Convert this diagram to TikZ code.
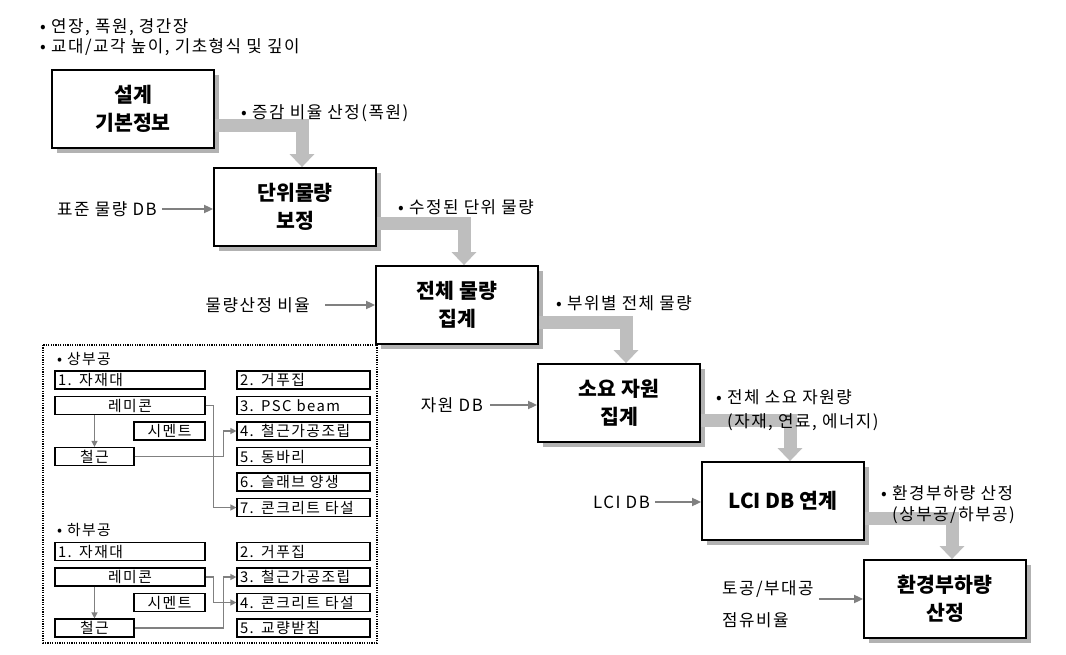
\documentclass[tikz,border=0pt]{standalone}
\usepackage{fontspec}
\setmainfont{Noto Sans CJK KR}
\usetikzlibrary{calc}
\usetikzlibrary{arrows.meta}
\usetikzlibrary{shadows}
\definecolor{bandgray}{RGB}{190,190,190}
\definecolor{linegray}{RGB}{128,128,128}

\begin{document}
\begin{tikzpicture}[x=1pt,y=-1pt]
      \tikzset{mainbox/.style={draw=black,line width=1.8pt,fill=white,minimum width=162pt,minimum height=78pt,align=center,font=\fontsize{20.5}{28}\selectfont\bfseries,drop shadow={shadow xshift=5pt,shadow yshift=-5pt,fill=gray!60,opacity=1}},
        bandarrow/.style={draw=bandgray,line width=13pt,-{Triangle[width=24pt,length=13pt]}},
        inarrow/.style={draw=linegray,line width=1.8pt,-{Triangle[width=8pt,length=9pt]}},
        link/.style={draw=linegray,line width=1.3pt,-{Triangle[width=6pt,length=6pt]}},
        txt/.style={inner sep=0pt,align=left,font=\fontsize{16.8}{21}\selectfont\addfontfeatures{LetterSpace=9}},
        small/.style={inner sep=0pt,font=\fontsize{14.8}{16}\selectfont\addfontfeatures{LetterSpace=10}},
        sbox/.style={small,draw=black,line width=1.2pt,fill=white,minimum height=18pt,inner xsep=3pt},
        wideleft/.style={sbox,text width=144pt,align=left},
        widemid/.style={sbox,text width=144pt,align=center},
        rightbox/.style={sbox,text width=127pt,align=left}}
      \def\rx{303.5}
      \useasboundingbox (0,0) rectangle (1066,655);

\node[txt,anchor=west] (t1) at (40,27) {• 연장, 폭원, 경간장};
\node[txt,anchor=west] (t2) at (40,47) {• 교대/교각 높이, 기초형식 및 깊이};

\node[mainbox] (b1) at (133,109) {설계\\기본정보};
\node[mainbox] (b2) at (295,207) {단위물량\\보정};
\node[mainbox] (b3) at (457,305) {전체 물량\\집계};
\node[mainbox] (b4) at (619,403) {소요 자원\\집계};
\node[mainbox] (b5) at (783,501) {LCI DB 연계};
\node[mainbox] (b6) at (945,599) {환경부하량\\산정};

\foreach \a/\b in {b1/b2,b2/b3,b3/b4,b4/b5,b5/b6}
		\draw[bandarrow] ($(\a.east)+(0,17)$) -| ($(\b.north)+(7,0)$);

\node[txt,anchor=west] (l1) at ($(b1.east)+(26,4)$) {• 증감 비율 산정(폭원)};
\node[txt,anchor=west] (l2) at ($(b2.east)+(21,0)$) {• 수정된 단위 물량};
\node[txt,anchor=west] (l3) at ($(b3.east)+(17,-2)$) {• 부위별 전체 물량};
\node[txt,anchor=west] (l4) at ($(b4.east)+(15,7)$) {• 전체 소요 자원량\\[3pt]\hphantom{• }(자재, 연료, 에너지)};
\node[txt,anchor=west] (l5) at ($(b5.east)+(16,4)$) {• 환경부하량 산정\\\hphantom{• }(상부공/하부공)};

\node[txt,anchor=west] (i1) at (57,209) {표준 물량 DB};
\node[txt,anchor=east] (i2) at (310,305) {물량산정 비율};
\node[txt,anchor=east] (i3) at (483,405) {자원 DB};
\node[txt,anchor=east] (i4) at (650,502) {LCI DB};
\node[txt,anchor=west,font=\fontsize{16.8}{32}\selectfont\addfontfeatures{LetterSpace=9}] (i5) at (722,604) {토공/부대공\\점유비율};

\draw[inarrow,shorten <=5pt] (i1.east) -- (i1.east -| b2.west);
\draw[inarrow,shorten <=15pt] (i2.east) -- (i2.east -| b3.west);
\draw[inarrow,shorten <=7pt] (i3.east) -- (i3.east -| b4.west);
\draw[inarrow,shorten <=5pt] (i4.east) -- (i4.east -| b5.west);
\draw[inarrow,shorten <=5pt] (i5.east |- b6.west) -- (b6.west);

\draw[line width=1.2pt,dash pattern=on 1.2pt off 1.2pt] (43,345) rectangle (377,643);

\node[small,anchor=west] (s1) at (57,359) {• 상부공};
\node[wideleft] (ua) at (130,380) {1. 자재대};
\node[widemid] (um) at (130,405.5) {레미콘};
\node[sbox,minimum width=71pt] (uc) at (169.5,431) {시멘트};
\node[sbox,minimum width=79pt] (ub) at (94.5,456.5) {철근};
\foreach \n/\y/\t in {ur2/380/2. 거푸집,ur3/405.5/3. PSC beam,ur4/431/4. 철근가공조립,ur5/456.5/5. 동바리,ur6/482/6. 슬래브 양생,ur7/507.5/7. 콘크리트 타설}
		\node[rightbox] (\n) at (\rx,\y) {\t};

\node[small,anchor=west] (s2) at (57,530) {• 하부공};
\node[wideleft] (la) at (130,551.5) {1. 자재대};
\node[widemid] (lm) at (130,577) {레미콘};
\node[sbox,minimum width=71pt] (lc) at (169.5,602.5) {시멘트};
\node[sbox,minimum width=79pt] (lb) at (94.5,628) {철근};
\foreach \n/\y/\t in {lr2/551.5/2. 거푸집,lr3/577/3. 철근가공조립,lr4/602.5/4. 콘크리트 타설,lr5/628/5. 교량받침}
		\node[rightbox] (\n) at (\rx,\y) {\t};

\draw[link] (um.east) -- ++(8,0) |- (ur7.west);
\draw[link] (ub.east) -- ++(89,0) |- (ur4.west);
\draw[link] (ub.north |- um.south) -- (ub.north);
\draw[link] (lm.east) -- ++(8,0) |- (lr4.west);
\draw[link] (lb.east) -- ++(89,0) |- (lr3.west);
\draw[link] (lb.north |- lm.south) -- (lb.north);
   
\end{tikzpicture}
\end{document}
